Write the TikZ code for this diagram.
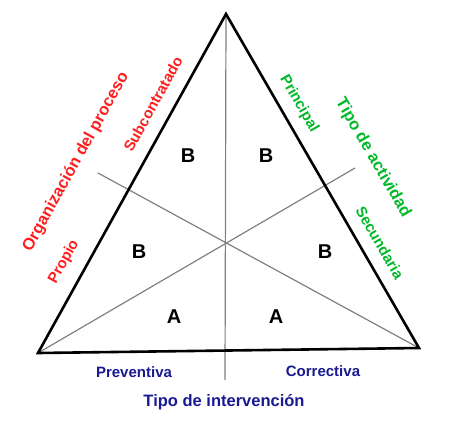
\documentclass[tikz,border=0pt]{standalone}
\usepackage{fontspec}
\setmainfont{Liberation Sans}
\definecolor{rojo}{RGB}{255,30,30}
\definecolor{verde}{RGB}{0,185,40}
\definecolor{azul}{RGB}{25,25,145}
\tikzset{
  lado/.style={line width=2.6pt, line join=miter},
  eje/.style={gray, line width=1.2pt},
  titulo/.style={font=\bfseries\fontsize{16.5}{18}\selectfont},
  sub/.style={font=\bfseries\fontsize{15}{17}\selectfont},
  zona/.style={font=\bfseries\fontsize{20}{22}\selectfont}
}
\begin{document}
\begin{tikzpicture}[x=1pt,y=-1pt]
				\useasboundingbox (0,0) rectangle (450,434);
				\coordinate (T) at (226,14);
				\coordinate (I) at (38,353);
				\coordinate (D) at (419,348);
				\coordinate (Ti) at (225,380);
				\coordinate (Ei) at (355,168);
				\coordinate (Ed) at (98,173);
				\draw[eje] (T) -- (Ti);
				\draw[eje] (I) -- (Ei);
				\draw[eje] (D) -- (Ed);
				\draw[lado] (T) -- (I) -- (D) -- cycle;
				\node[zona] (b1) at (188,156) {B};
				\node[zona] (b2) at (266,156) {B};
				\node[zona] (b3) at (139,252) {B};
				\node[zona] (b4) at (325,252) {B};
				\node[zona] (a1) at (174,317) {A};
				\node[zona] (a2) at (276,317) {A};
				\node[titulo, rojo, rotate=61] (org) at (76,162) {Organización del proceso};
				\node[sub, rojo, rotate=61] (subc) at (153,104) {Subcontratado};
				\node[sub, rojo, rotate=61] (prop) at (64,262) {Propio};
				\node[titulo, verde, rotate=-60] (act) at (373,158) {Tipo de actividad};
				\node[sub, verde, rotate=-60] (prin) at (299,104) {Principal};
				\node[sub, verde, rotate=-60] (sec) at (380,243) {Secundaria};
				\node[sub, azul] (prev) at (134,372) {Preventiva};
				\node[sub, azul] (corr) at (323,371) {Correctiva};
				\node[titulo, azul] (int) at (224,402) {Tipo de intervención};
\end{tikzpicture}
\end{document}
